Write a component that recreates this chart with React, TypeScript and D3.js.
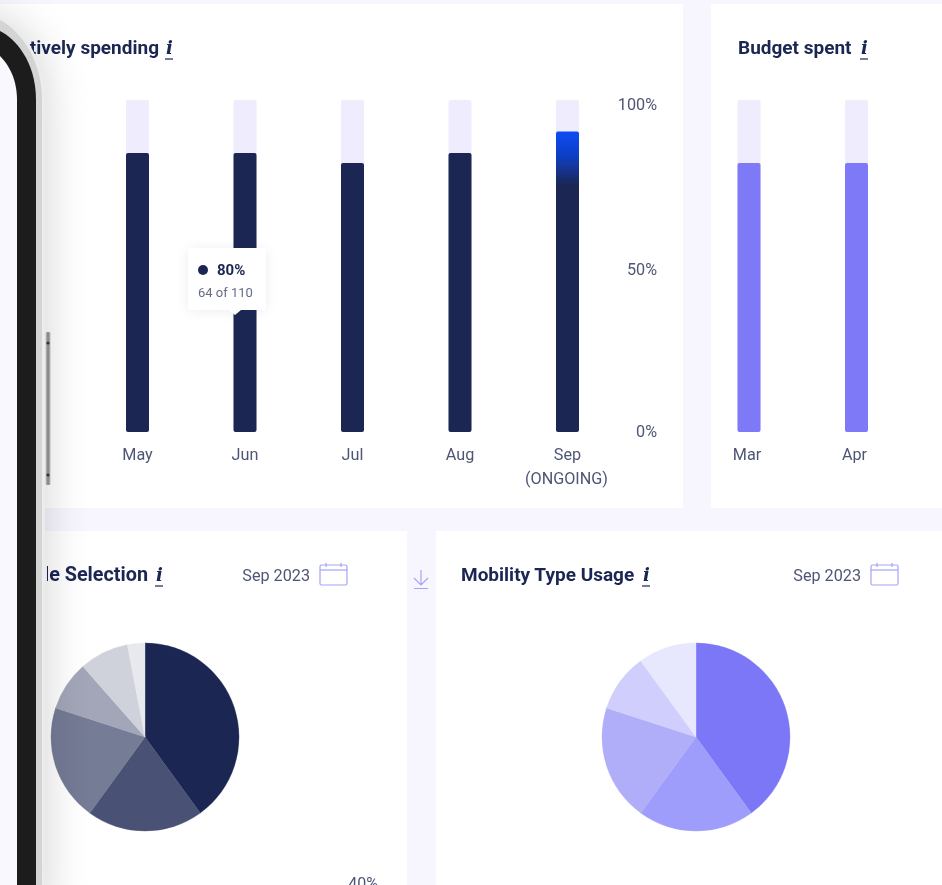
import * as d3 from "d3";
import React from "react";

const spendMonths = ["May", "Jun", "Jul", "Aug", "Sep"];
const spendValues = [84, 84, 81, 84, 90.5];
const budgetMonths = ["Mar", "Apr"];
const budgetValues = [81, 81];
const percentTicks = [0, 50, 100];
const vehicleShares = [40, 20, 20, 8.5, 8.5, 3];
const vehicleColors = ["#1b2653", "#4a5174", "#757b96", "#a3a6b8", "#d0d2db", "#e8e9ee"];
const mobilityShares = [40, 20, 20, 10, 10];
const mobilityColors = ["#7b77f6", "#9f9dfb", "#b0aef9", "#cfcefc", "#e7e7fd"];

const NAVY = "#1b2653";
const PURPLE = "#7d79f7";
const TRACK = "#eeecfd";
const GREY = "#4f5674";
const ICON = "#a5a3f8";
const FONT = "Roboto, sans-serif";

const y = d3.scaleLinear([0, 100], [432, 100]);
const tickY = d3.scaleLinear([0, 50, 100], [431, 269, 104]);
const xSpend = d3.scalePoint(spendMonths, [137.5, 567.5]);
const xBudget = d3.scalePoint(budgetMonths, [749, 856.5]);
const BAR_W = 23;

const pie = d3.pie<number>().sort(null).value(d => d);
const arc = d3.arc<d3.PieArcDatum<number>>().innerRadius(0).outerRadius(94);

const Title = ({ x, anchor, text, infoX, yPos, size = 19, clip }: { x: number, anchor: "start" | "end", text: string, infoX: number, yPos: number, size?: number, clip?: string }) => (
  <g fontFamily={FONT} fill={NAVY}>
    <text x={x} y={yPos} textAnchor={anchor} fontSize={size} fontWeight={700} clipPath={clip}>{text}</text>
    <text x={infoX} y={yPos} fontSize={18} fontWeight={700} fontStyle="italic" fontFamily="'DejaVu Serif', serif">i</text>
    <line x1={infoX - 1} x2={infoX + 7} y1={yPos + 5} y2={yPos + 5} stroke={NAVY} strokeWidth={1.2} />
  </g>
)

const DateBox = ({ x }: { x: number }) => (
  <g>
    <text x={x - 10} y={581} textAnchor="end" fontFamily={FONT} fontSize={16.2} fill={GREY}>Sep 2023</text>
    <g fill="none" stroke={ICON} strokeWidth={1.2}>
      <rect x={x} y={565} width={27} height={20} rx={1.5} />
      <line x1={x} x2={x + 27} y1={570} y2={570} />
      <line x1={x + 6} x2={x + 6} y1={563} y2={567} />
      <line x1={x + 21} x2={x + 21} y1={563} y2={567} />
    </g>
  </g>
)

const Bars = ({ months, values, xScale, fill }: { months: string[], values: number[], xScale: d3.ScalePoint<string>, fill: (m: string) => string }) => (
  <g>
    {months.map((m, i) => (
      <g key={m}>
        <rect x={xScale(m)! - BAR_W / 2} y={y(100)} width={BAR_W} height={y(0) - y(100)} rx={2} fill={TRACK} />
        <rect x={xScale(m)! - BAR_W / 2} y={y(values[i])} width={BAR_W} height={y(0) - y(values[i])} rx={2} fill={fill(m)} />
      </g>
    ))}
  </g>
)

const Pie = ({ shares, colors, cx }: { shares: number[], colors: string[], cx: number }) => (
  <g transform={`translate(${cx},737)`}>
    {pie(shares).map((s, i) => <path key={i} d={arc(s) as string} fill={colors[i]} stroke={colors[i]} strokeWidth={0.4} />)}
  </g>
)

export default function App() {
  return (
    <svg width={942} height={885} viewBox="0 0 942 885" style={{ position: "absolute", left: 0, top: 0, display: "block" }}>
      <defs>
        <linearGradient id="sepGrad" x1="0" x2="0" y1="0" y2="1" gradientUnits="objectBoundingBox">
          <stop offset="0" stopColor="#0a4bf6" />
          <stop offset="0.08" stopColor="#0f3fc4" />
          <stop offset="0.18" stopColor={NAVY} />
          <stop offset="1" stopColor={NAVY} />
        </linearGradient>
        <linearGradient id="buttonGrad" x1="0" x2="1" y1="0" y2="0">
          <stop offset="0" stopColor="#c9c9c9" />
          <stop offset="0.5" stopColor="#7d7d7d" />
          <stop offset="1" stopColor="#bdbdbd" />
        </linearGradient>
        <clipPath id="behindPhone">
          <rect x={47} y={540} width={200} height={60} />
        </clipPath>
        <filter id="phoneShadow" x="-100%" y="-20%" width="400%" height="140%">
          <feGaussianBlur stdDeviation={24} />
        </filter>
        <filter id="tipShadow" x="-30%" y="-30%" width="160%" height="160%">
          <feDropShadow dx={0} dy={1} stdDeviation={6} floodColor="#1b2653" floodOpacity={0.07} />
        </filter>
        <filter id="soft"><feGaussianBlur stdDeviation={0.5} /></filter>
      </defs>

      <g filter="url(#soft)">
        <rect width={942} height={885} fill="#f7f6fe" />
        <rect x={0} y={4} width={683} height={504} fill="#fff" />
        <rect x={711} y={4} width={231} height={504} fill="#fff" />
        <rect x={0} y={531} width={407} height={354} fill="#fff" />
        <rect x={436} y={531} width={506} height={354} fill="#fff" />

        <Title x={159} anchor="end" text="Users actively spending" infoX={166} yPos={54} />
        <Title x={738} anchor="start" text="Budget spent" infoX={861} yPos={54} />
        <Title x={148} anchor="end" text="Vehicle Selection" infoX={156} yPos={581} size={19.8} clip="url(#behindPhone)" />
        <Title x={461} anchor="start" text="Mobility Type Usage" infoX={643} yPos={581} />

        <Bars months={spendMonths} values={spendValues} xScale={xSpend} fill={m => m === "Sep" ? "url(#sepGrad)" : NAVY} />
        <Bars months={budgetMonths} values={budgetValues} xScale={xBudget} fill={() => PURPLE} />

        <g fontFamily={FONT} fontSize={16.2} fill={GREY}>
          {percentTicks.map(t => (
            <text key={t} x={657} y={tickY(t)} textAnchor="end" dominantBaseline="central">{t}%</text>
          ))}
          {spendMonths.map(m => (
            <text key={m} x={xSpend(m)} y={460} textAnchor="middle">{m}</text>
          ))}
          <text x={xSpend("Sep")! - 1} y={484} textAnchor="middle">(ONGOING)</text>
          {budgetMonths.map(m => (
            <text key={m} x={xBudget(m)! - 2} y={460} textAnchor="middle">{m}</text>
          ))}
        </g>

        <g filter="url(#tipShadow)">
          <rect x={188} y={248} width={78} height={62} rx={3} fill="#fff" />
          <path d="M229,310 L235,315 L241,310 Z" fill="#fff" />
        </g>
        <circle cx={203} cy={270} r={5} fill={NAVY} />
        <text x={217} y={275} fontFamily={FONT} fontSize={15} fontWeight={700} fill={NAVY}>80%</text>
        <text x={198} y={297} fontFamily={FONT} fontSize={13} fill="#666c86">64 of 110</text>

        <DateBox x={320} />
        <DateBox x={871} />
        <g fill="none" stroke={ICON} strokeWidth={1.2}>
          <path d="M421,570 V585 M414,578 L421,585 L428,578 M414,588.5 H428" />
        </g>

        <Pie shares={vehicleShares} colors={vehicleColors} cx={145} />
        <Pie shares={mobilityShares} colors={mobilityColors} cx={696} />
        <text x={378} y={889} textAnchor="end" fontFamily={FONT} fontSize={16} fill={GREY}>40%</text>

        <path d="M0,20 C16,28 42,55 42,100 V920 H-60 V20 Z" fill="#000" opacity={0.2} filter="url(#phoneShadow)" />
        <path d="M0,18 C18,26 45,53 45,100 V885 H0 Z" fill="#ececec" />
        <path d="M0,20 C16,28 42,55 42,100 V885 H0 Z" fill="#d3d4d4" />
        <path d="M0,31 C14,38 36,60 36,100 V885 H0 Z" fill="#1c1c1a" />
        <path d="M0,56 C6,62 17,76 17,100 V885 H0 Z" fill="#f8f8fe" />
        <rect x={45.5} y={332} width={5} height={153} rx={1.5} fill="url(#buttonGrad)" />
        <circle cx={48} cy={343} r={1.6} fill="#333" />
        <circle cx={48} cy={475} r={1.6} fill="#333" />
      </g>
    </svg>
  )
}
